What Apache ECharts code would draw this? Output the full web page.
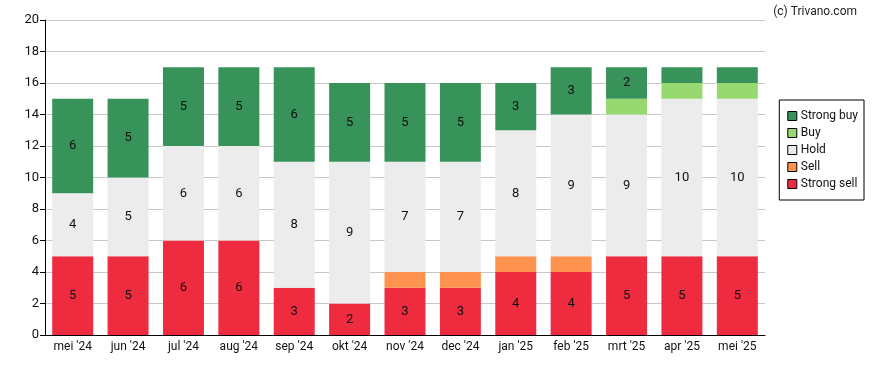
<!DOCTYPE html>
<html><head><meta charset="utf-8">
<script src="https://cdn.jsdelivr.net/npm/echarts@6/dist/echarts.min.js"></script>
<style>html,body{margin:0;padding:0;background:#fff}#c{width:888px;height:370px}</style>
</head><body><div id="c"></div>
<script>
const categories = ["mei '24","jun '24","jul '24","aug '24","sep '24","okt '24","nov '24","dec '24","jan '25","feb '25","mrt '25","apr '25","mei '25"];
const strongSell = [5,5,6,6,3,2,3,3,4,4,5,5,5];
const sell       = [0,0,0,0,0,0,1,1,1,1,0,0,0];
const hold       = [4,5,6,6,8,9,7,7,8,9,9,10,10];
const buy        = [0,0,0,0,0,0,0,0,0,0,1,1,1];
const strongBuy  = [6,5,5,5,6,5,5,5,3,3,2,1,1];
const yTicks = [0,2,4,6,8,10,12,14,16,18,20];

const FONT = 'Roboto, "Liberation Sans", sans-serif';
function mk(name, data, color){
  return {
    name, type:'bar', stack:'t', data, barCategoryGap:'26%',
    itemStyle:{color},
    emphasis:{disabled:true},
    label:{show:true, position:'inside', color:'#111', fontSize:13, fontFamily:FONT,
      formatter:p=>p.value>=2?String(p.value):''}
  };
}
const chart = echarts.init(document.getElementById('c'), null, {renderer:'canvas'});
chart.setOption({
  animation:false,
  title:{text:'(c) Trivano.com', right:26, top:1, textStyle:{fontSize:12, fontWeight:'normal', color:'#222', fontFamily:FONT}},
  grid:{left:45, right:123, top:20, bottom:35},
  legend:{
    orient:'vertical', right:24, top:100, data:['Strong buy','Buy','Hold','Sell','Strong sell'],
    icon:'rect', itemWidth:9, itemHeight:9, itemGap:5,
    borderColor:'#000', borderWidth:1, padding:[10,6,10,8],
    textStyle:{fontSize:12, color:'#111', fontFamily:FONT, padding:[0,0,0,-1]},
    itemStyle:{borderColor:'#000', borderWidth:1}
  },
  xAxis:{type:'category', data:categories,
    axisLine:{lineStyle:{color:'#000'}}, axisTick:{alignWithLabel:true, lineStyle:{color:'#000'}},
    axisLabel:{color:'#111', fontSize:12, fontFamily:FONT, margin:6}},
  yAxis:{type:'value', min:yTicks[0], max:yTicks[yTicks.length-1], interval:2,
    axisLine:{show:true, lineStyle:{color:'#000'}}, axisTick:{show:true, length:5, lineStyle:{color:'#000'}},
    splitLine:{lineStyle:{color:'#c8c8c8'}},
    axisLabel:{color:'#111', fontSize:13, fontFamily:FONT, margin:6}},
  series:[
    mk('Strong sell', strongSell, '#ee2b3f'),
    mk('Sell', sell, '#fe9350'),
    mk('Hold', hold, '#ececec'),
    mk('Buy', buy, '#98d870'),
    mk('Strong buy', strongBuy, '#38935a')
  ]
});
</script></body></html>
